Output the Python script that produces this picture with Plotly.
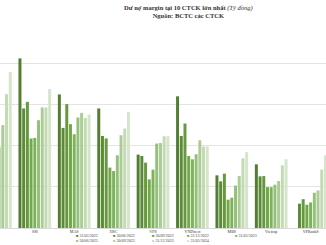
import plotly.graph_objects as go

W, H = 326, 245
MT, MB = 22, 17

companies = ["TCBS", "SSI", "MAS", "HSC", "VPS", "VNDirect", "MBS", "Vietcap", "VPBankS"]
dates = ["31/03/2022", "30/06/2022", "30/09/2022", "31/12/2022", "31/03/2023",
         "30/06/2023", "30/09/2023", "31/12/2023", "31/03/2024"]
colors = ["#517e30", "#5c8b37", "#66983d", "#71a84a", "#7db358",
          "#95c07b", "#abcc96", "#c3dab3", "#d5e5ca"]

# values per date (one list per date, ordered like `companies`)
q1_2022 = [12000, 20590, 16210, 14510, 8910, 15980, 6390, 7730, None]
q2_2022 = [10500, 14510, 12150, 11170, 8740, 11170, 5660, 6270, 2950]
q3_2022 = [9600, 15310, 15030, 10870, 7930, 12680, 6600, 6300, 3500]
q4_2022 = [6300, 10860, 12600, 7330, 5900, 8730, 3440, 4960, 2820]
q1_2023 = [7200, 10930, 11380, 6910, 7080, 8340, 3680, 4960, 3100]
q2_2023 = [9800, 13080, 13410, 8820, 10250, 8950, 5150, 5260, 4280]
q3_2023 = [12490, 14630, 13970, 11260, 10320, 10650, 6300, 5700, 4560]
q4_2023 = [16240, 14630, 13360, 12070, 11140, 9880, 8460, 7610, 7080]
q1_2024 = [18920, 16860, 13780, 14090, 11140, 9920, 9220, 8340, 8820]
series = [q1_2022, q2_2022, q3_2022, q4_2022, q1_2023, q2_2023, q3_2023, q4_2023, q1_2024]

title_line1 = "Dư nợ margin tại 10 CTCK lớn nhất"
title_unit = "(Tỷ đồng)"
title_line2 = "Nguồn: BCTC các CTCK"

SERIF = "Liberation Serif, Times New Roman, serif"

fig = go.Figure()
for name, vals, col in zip(dates, series, colors):
    fig.add_trace(go.Bar(x=companies, y=vals, name=name, marker_color=col,
                         marker_line_width=0, showlegend=False))

PH = H - MT - MB


def py(ypx):
    return (H - MB - ypx) / PH


def px(xpx):
    return xpx / W


# title
fig.add_annotation(x=px(188), y=py(11), xref="paper", yref="paper",
                   text=f"<b>{title_line1}</b> <i>{title_unit}</i><br><b>{title_line2}</b>",
                   showarrow=False, xanchor="center", yanchor="middle", align="center",
                   font=dict(family=SERIF, size=6.5, color="#333333"))

# legend (as text)
leg_pos = [(74, 235.5), (111, 235.5), (150, 235.5), (185, 235.5), (233, 235.5),
           (74, 240.5), (111, 240.5), (150, 240.5), (185, 240.5)]
for (lx, ly), name, col in zip(leg_pos, dates, colors):
    fig.add_annotation(x=px(lx), y=py(ly), xref="paper", yref="paper",
                       text=f'<span style="color:{col}">■</span> {name}',
                       showarrow=False, xanchor="left", yanchor="middle",
                       font=dict(family=SERIF, size=4, color="#444444"))

CW = 39.4
a = 1 - 34.8 / CW
b = a + W / CW

fig.update_layout(
    width=W, height=H,
    margin=dict(l=0, r=0, t=MT, b=MB, pad=0),
    paper_bgcolor="white", plot_bgcolor="white",
    barmode="group", bargap=0.152, bargroupgap=0.2,
    xaxis=dict(type="category", range=[a, b], showgrid=False, ticks="",
               tickfont=dict(family=SERIF, size=4, color="#333333"),
               showline=False, zeroline=False),
    yaxis=dict(range=[0, 25000], dtick=5000, showticklabels=False,
               gridcolor="#e4e4e4", gridwidth=1, zeroline=True,
               zerolinecolor="#d9d9d9", zerolinewidth=1, showline=False),
)

fig.write_html("out.html")
